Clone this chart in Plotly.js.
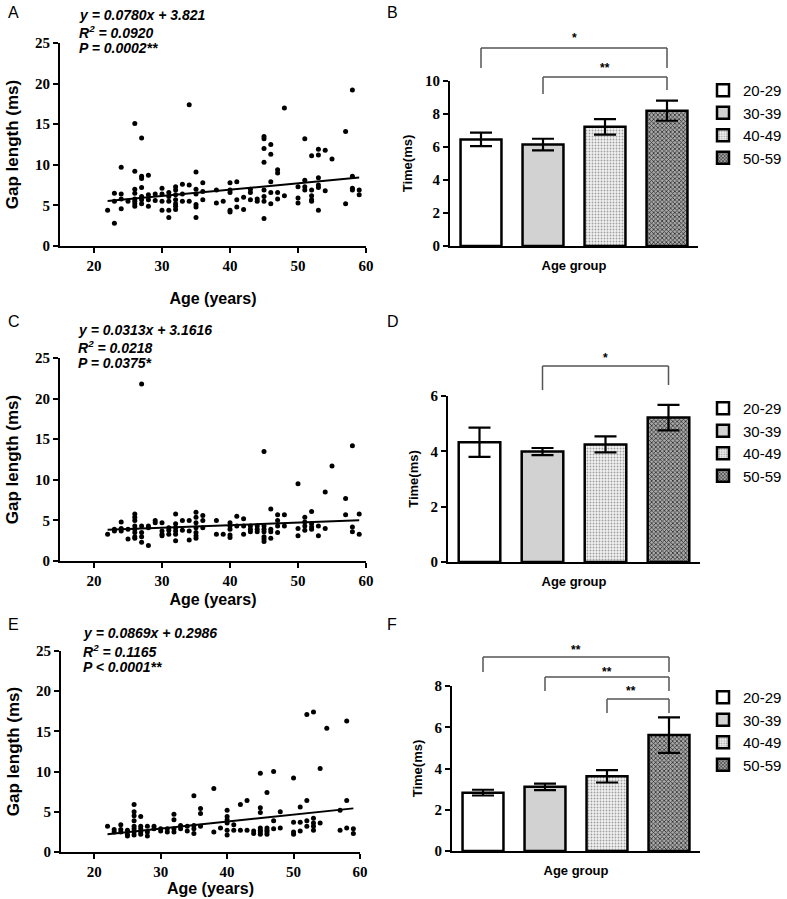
<!DOCTYPE html>
<html><head><meta charset="utf-8">
<script src="https://cdn.plot.ly/plotly-3.0.1.min.js"></script>
<style>html,body{margin:0;padding:0;background:#fff}#chart{width:787px;height:899px}</style>
</head><body><div id="chart"></div>
<script>
// ---------------- DATA ----------------
const ageGroups = ['20-29', '30-39', '40-49', '50-59'];
const ageTicks = [20, 30, 40, 50, 60];
const gapTicks = [0, 5, 10, 15, 20, 25];

// Panel A: scatter (age, gap length)
const agesA = [22, 23,23,23, 24,24,24,24, 25, 26,26,26,26,26,26,26,26, 27,27,27,27,27,27,27, 28,28,28,28, 29,29,
  30,30,30,30, 31,31,31,31,31, 32,32,32,32,32,32,32, 33,33,33, 34,34,34, 35,35,35,35,35,35, 36,36,36, 38,38, 39,
  40,40,40,40,40, 41,41,41, 42,42, 43,43,43, 44,44, 45,45,45,45,45,45,45,45, 46,46,46,46,46, 47,47,47,47, 48,48,
  50,50,50, 51,51,51,51, 52,52,52,52,52, 53,53,53,53,53,53, 54,54, 55, 57,57, 58,58,58,58, 59,59];
const gapsA = [4.4, 6.5,5.5,2.8, 9.7,6.4,5.8,4.6, 5.5, 15.1,9.2,7.0,6.5,5.8,5.5,5.2,4.9, 13.3,8.6,8.3,7.2,6.1,5.7,5.2, 8.7,6.3,5.7,4.9, 6.4,5.6,
  7.1,6.4,5.5,4.4, 6.6,6.1,5.5,4.4,3.5, 7.3,6.9,6.3,5.7,5.2,4.9,4.5, 7.6,6.4,5.5, 17.4,7.5,5.5, 9.1,7.0,6.4,5.1,4.8,3.5, 7.8,6.7,5.7, 6.9,5.3, 5.5,
  7.8,6.9,6.6,4.4,4.2, 7.9,5.7,4.8, 6.0,4.5, 7.0,6.6,5.7, 5.8,5.5, 13.5,13.2,12.0,10.3,6.9,6.1,5.5,3.4, 12.5,11.3,7.9,6.6,5.2, 9.4,9.0,6.6,5.8, 17.0,6.2,
  7.3,5.9,5.3, 13.2,8.1,7.3,6.9, 11.1,6.9,6.2,5.7,5.5, 11.9,11.2,8.4,7.5,7.2,4.4, 11.8,6.8, 10.7, 14.1,5.2, 19.2,8.6,7.1,6.9, 6.9,6.3];
const fitA = [0.0780, 3.821]; // slope, intercept
const statsA = ['y = 0.0780x + 3.821', 'R<sup>2</sup> = 0.0920', 'P = 0.0002**'];

// Panel B: bar means and errors
const meansB = [6.46, 6.15, 7.22, 8.2];
const errB = [0.41, 0.35, 0.47, 0.61];
const sigB = [[0, 3, '*'], [1, 3, '**']];

// Panel C
const agesC = [22, 23,23, 24,24,24, 25,25, 26,26,26,26,26,26,26,26, 27,27,27,27,27, 28,28,28, 29,29, 30,30,30,30, 31,31,31,
  32,32,32,32,32,32, 33,33, 34,34,34, 35,35,35,35,35,35,35, 36,36,36, 38,38, 39, 40,40,40,40,40, 41,41, 42,42,42, 43,43,43,
  44,44,44, 45,45,45,45,45,45,45, 46,46,46,46, 47,47,47,47, 48,48, 50,50,50, 51,51,51,51, 52,52,52,52, 53,53, 54,54, 55,
  57,57, 58,58,58, 59,59];
const gapsC = [3.3, 3.9,3.7, 4.8,4.0,3.7, 3.9,2.7, 5.8,5.4,5.0,4.3,3.9,3.5,3.0,2.8, 21.8,4.3,3.5,3.0,2.3, 4.3,4.1,1.9, 5.0,4.7, 4.7,3.7,3.3,3.1, 4.1,3.8,3.3,
  5.8,4.6,4.1,3.7,3.3,2.5, 5.0,3.8, 5.0,3.7,2.6, 6.0,5.4,4.7,4.1,3.5,3.1,2.8, 5.6,5.0,4.1, 5.0,3.3, 3.3, 4.7,4.3,3.9,3.2,2.9, 5.5,4.3, 5.2,4.3,3.3, 4.3,3.9,3.6,
  4.3,3.9,3.6, 13.5,4.3,3.9,3.6,3.0,2.7,2.4, 6.4,3.9,3.6,2.8, 5.7,5.0,4.3,3.5, 5.7,4.3, 9.5,4.0,3.1, 5.4,4.8,4.3,3.8, 6.1,4.6,4.2,3.9, 4.3,3.1, 8.5,4.0, 11.7,
  7.7,5.7, 14.2,4.2,3.6, 5.8,3.3];
const fitC = [0.0313, 3.1616];
const statsC = ['y = 0.0313x + 3.1616', 'R<sup>2</sup> = 0.0218', 'P = 0.0375*'];

// Panel D
const meansD = [4.33, 3.99, 4.25, 5.22];
const errD = [0.53, 0.13, 0.29, 0.46];
const sigD = [[1, 3, '*']];

// Panel E
const agesE = [22, 23,23, 24,24,24, 25,25,25, 26,26,26,26,26,26,26,26, 27,27,27,27,27, 28,28,28, 29,29, 30,30, 31,31,
  32,32,32,32, 33,33, 34,34, 35,35,35,35, 36,36,36, 38,38, 39, 40,40,40,40,40,40, 41,41, 42,42, 43,43, 44,44,
  45,45,45,45,45,45,45, 46,46,46,46,46, 47,47,47, 48,48, 50,50,50,50, 51,51,51, 52,52,52,52, 53,53,53,53,53, 54,54, 55,
  57,57, 58,58,58, 59,59];
const gapsE = [3.2, 2.8,2.5, 3.4,2.8,2.5, 2.7,2.2,2.0, 5.9,5.0,4.5,3.9,3.2,2.9,2.5,2.1, 4.4,3.2,2.9,2.5,2.2, 3.2,2.5,2.0, 3.2,2.9, 2.9,2.6, 2.9,2.5,
  4.7,4.0,2.9,2.5, 3.3,2.9, 3.2,2.6, 7.0,3.3,2.9,2.3, 5.4,4.8,3.2, 7.9,2.5, 3.0, 5.2,4.4,4.0,3.6,2.7,2.1, 3.4,2.7, 5.9,2.7, 6.4,2.7, 2.6,2.3,
  9.8,5.5,4.9,3.0,2.7,2.5,2.2, 7.4,3.0,2.7,2.5,2.2, 10.0,3.9,2.9, 5.0,3.0, 9.2,3.7,2.5,2.2, 5.6,3.7,2.6, 17.1,6.4,3.9,3.2, 17.4,4.2,3.6,3.2,2.7, 10.4,3.6, 15.4,
  5.2,2.7, 16.3,6.4,3.0, 2.9,2.3];
const fitE = [0.0869, 0.2986];
const statsE = ['y = 0.0869x + 0.2986', 'R<sup>2</sup> = 0.1165', 'P < 0.0001**'];

// Panel F
const meansF = [2.83, 3.11, 3.62, 5.62];
const errF = [0.14, 0.16, 0.30, 0.86];
const sigF = [[0, 3, '**'], [1, 3, '**'], [2, 3, '**']];

// ---------------- LAYOUT HELPERS ----------------
const W = 787, H = 899;
const px = v => v / W;
const py = v => 1 - v / H;
const serifTick = {family: 'Liberation Serif', size: 15, color: '#000', weight: 'bold'};
const sans = 'Liberation Sans';

const traces = [];
const shapes = [];
const annotations = [];
const layout = {
  width: W, height: H, margin: {l: 0, r: 0, t: 0, b: 0},
  paper_bgcolor: '#fff', plot_bgcolor: 'rgba(0,0,0,0)',
  font: {family: sans, color: '#000'},
  barmode: 'overlay', showlegend: true,
  shapes, annotations
};

function scatterPanel(n, ages, gaps, fit, stats, box, opts) {
  const xa = 'x' + (n === 1 ? '' : n), ya = 'y' + (n === 1 ? '' : n);
  traces.push({type: 'scatter', mode: 'markers', x: ages, y: gaps, xaxis: xa, yaxis: ya,
    marker: {color: '#000', size: 5}, showlegend: false, hoverinfo: 'x+y', cliponaxis: false});
  const lo = Math.min(...ages), hi = Math.max(...ages);
  traces.push({type: 'scatter', mode: 'lines', x: [lo, hi], y: [fit[0] * lo + fit[1], fit[0] * hi + fit[1]],
    xaxis: xa, yaxis: ya, line: {color: '#000', width: 2}, showlegend: false, hoverinfo: 'skip'});
  layout['xaxis' + (n === 1 ? '' : n)] = {
    domain: [px(box.l), px(box.r)], anchor: ya, range: [15, 60], tickvals: ageTicks,
    ticks: 'outside', ticklen: 5, tickwidth: 2, tickcolor: '#000', showline: true, linewidth: 2, linecolor: '#000',
    showgrid: false, zeroline: false, tickfont: serifTick, fixedrange: true,
    title: {text: 'Age (years)', font: {family: sans, size: 16, weight: 'bold'}, standoff: opts.xs}
  };
  layout['yaxis' + (n === 1 ? '' : n)] = {
    domain: [py(box.b), py(box.t)], anchor: xa, range: [0, 25], tickvals: gapTicks,
    ticks: 'outside', ticklen: 5, tickwidth: 2, tickcolor: '#000', showline: true, linewidth: 2, linecolor: '#000',
    showgrid: false, zeroline: false, tickfont: serifTick, fixedrange: true,
    title: {text: 'Gap length (ms)', font: {family: sans, size: 17, weight: 'bold'}, standoff: opts.ys}
  };
  stats.forEach((s, k) => {
    annotations.push({xref: 'paper', yref: 'paper', x: px(opts.ex), y: py(opts.ey[k]), xanchor: 'left', yanchor: 'middle',
      align: 'left', showarrow: false, text: '<b><i>' + s + '</i></b>',
      font: {family: sans, size: 14, color: '#000'}});
  });
}

const barStyles = [
  {color: '#ffffff'},
  {color: '#d2d2d2'},
  {color: '#e4e4e4', pattern: {shape: '.', fgcolor: '#a0a0a0', bgcolor: '#f2f2f2', size: 3, solidity: 0.3}},
  {color: '#7a7a7a', pattern: {shape: 'x', fgcolor: '#2e2e2e', bgcolor: '#a8a8a8', size: 3, solidity: 0.45}}
];

function barPanel(n, means, errs, sig, box, ymax, legendName, legendTop, brackets) {
  const xa = 'x' + n, ya = 'y' + n;
  ageGroups.forEach((g, i) => {
    traces.push({type: 'bar', x: [g], y: [means[i]], name: g, width: 0.66, xaxis: xa, yaxis: ya,
      legend: legendName,
      marker: Object.assign({}, barStyles[i], {line: {color: '#000', width: 2.5}}),
      error_y: {type: 'data', array: [errs[i]], visible: true, color: '#000', thickness: 2.2, width: 11}});
  });
  layout['xaxis' + n] = {
    domain: [px(box.l), px(box.r)], anchor: ya, type: 'category', categoryorder: 'array', categoryarray: ageGroups,
    range: [-0.5, 3.5], showticklabels: false, ticks: '', showline: true, linewidth: 2, linecolor: '#000',
    showgrid: false, zeroline: false, fixedrange: true,
    title: {text: 'Age group', font: {family: sans, size: 13, weight: 'bold'}, standoff: 14}
  };
  layout['yaxis' + n] = {
    domain: [py(box.b), py(box.t)], anchor: xa, range: [0, ymax], dtick: 2,
    ticks: 'outside', ticklen: 5, tickwidth: 2, tickcolor: '#000', showline: true, linewidth: 2, linecolor: '#000',
    showgrid: false, zeroline: false, tickfont: serifTick, fixedrange: true,
    title: {text: 'Time(ms)', font: {family: sans, size: 13, weight: 'bold'}, standoff: 9}
  };
  layout[legendName] = {x: px(703), y: py(legendTop), xanchor: 'left', yanchor: 'top',
    bgcolor: 'rgba(0,0,0,0)', borderwidth: 0, font: {family: sans, size: 15, color: '#000'},
    itemclick: false, itemdoubleclick: false};
  const xr = xa + ' domain', yr = ya + ' domain';
  const fy = v => (box.b - v) / (box.b - box.t);
  const fx = k => (k + 0.5) / ageGroups.length;
  const line = {color: '#555', width: 1.5};
  sig.forEach((s, k) => {
    const b = brackets[k];
    shapes.push({type: 'line', xref: xr, yref: yr, x0: fx(s[0]), x1: fx(s[0]), y0: fy(b[1]), y1: fy(b[0]), line});
    shapes.push({type: 'line', xref: xr, yref: yr, x0: fx(s[0]), x1: fx(s[1]), y0: fy(b[0]), y1: fy(b[0]), line});
    shapes.push({type: 'line', xref: xr, yref: yr, x0: fx(s[1]), x1: fx(s[1]), y0: fy(b[0]), y1: fy(b[2]), line});
    annotations.push({xref: xr, yref: yr, x: (fx(s[0]) + fx(s[1])) / 2, y: fy(b[3] + 3), yanchor: 'middle',
      showarrow: false, text: s[2], font: {family: sans, size: 12, color: '#000', weight: 'bold'}});
  });
}

scatterPanel(1, agesA, gapsA, fitA, statsA, {l: 60, r: 366, t: 43, b: 246}, {xs: 20, ys: 12, ex: 77, ey: [15, 32, 48]});
barPanel(2, meansB, errB, sigB, {l: 450, r: 698, t: 81, b: 246}, 10, 'legend', 74,
  [[48, 68, 68, 35], [77, 94, 90, 65]]);
scatterPanel(3, agesC, gapsC, fitC, statsC, {l: 60, r: 366, t: 358, b: 561}, {xs: 6, ys: 12, ex: 76, ey: [330, 347, 363]});
barPanel(4, meansD, errD, sigD, {l: 448, r: 700, t: 396, b: 562}, 6, 'legend2', 392,
  [[366, 390, 385, 355]]);
scatterPanel(5, agesE, gapsE, fitE, statsE, {l: 61, r: 360, t: 651, b: 852}, {xs: 3, ys: 12, ex: 81, ey: [633, 651, 667]});
barPanel(6, meansF, errF, sigF, {l: 452, r: 700, t: 686, b: 851}, 8, 'legend3', 681,
  [[657, 672, 672, 647], [677, 691, 691, 669], [699, 713, 713, 688]]);

// panel letters
[['A', 6, 12], ['B', 385, 12], ['C', 6, 322], ['D', 385, 322], ['E', 6, 624], ['F', 385, 624]].forEach(l => {
  annotations.push({xref: 'paper', yref: 'paper', x: px(l[1]), y: py(l[2]), xanchor: 'left', yanchor: 'middle',
    showarrow: false, text: l[0], font: {family: sans, size: 16, color: '#000'}});
});

Plotly.newPlot('chart', traces, layout, {displayModeBar: false, staticPlot: true});
</script>
</body></html>
